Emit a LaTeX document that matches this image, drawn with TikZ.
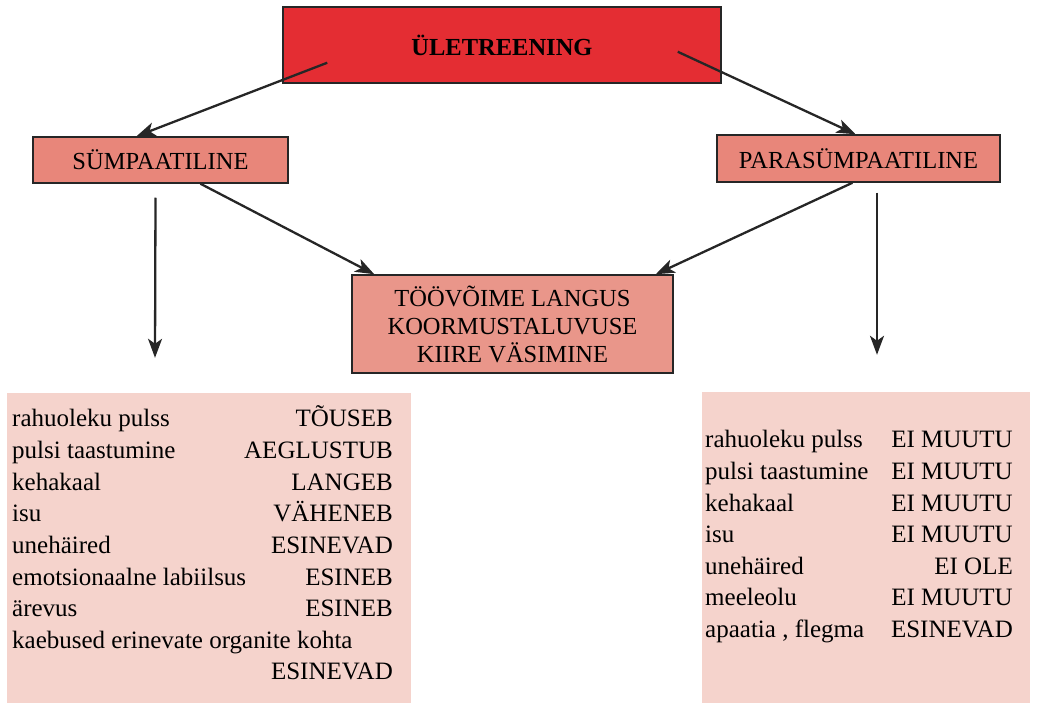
\documentclass[tikz,border=0pt]{standalone}
\usepackage{fontspec}
\setmainfont{Liberation Serif}
\usepackage{xcolor}
\usetikzlibrary{arrows.meta}

\definecolor{topred}{RGB}{228,45,51}
\definecolor{sidesalmon}{RGB}{232,134,122}
\definecolor{midsalmon}{RGB}{233,150,138}
\definecolor{listpink}{RGB}{245,211,204}

\begin{document}
\begin{tikzpicture}[x=1pt, y=-1pt,
  box/.style={draw=black!85, line width=1.5pt, inner sep=0pt,
    font=\fontsize{24.5}{28}\selectfont},
  listbox/.style={fill=listpink, inner sep=0pt},
  item/.style={inner sep=0pt, font=\fontsize{25}{30}\selectfont},
  arr/.style={line width=2.3pt, black!85, -{Stealth[length=19pt,width=14pt,inset=5pt]}}]
  \useasboundingbox (0,0) rectangle (1037,703);
  % boxes
  \node[box, fill=topred, minimum width=438pt, minimum height=76pt] (top) at (502,45) {\textbf{ÜLETREENING}};
  \node[box, fill=sidesalmon, minimum width=255pt, minimum height=46pt] (symp) at (160.5,160) {SÜMPAATILINE};
  \node[box, fill=sidesalmon, minimum width=283pt, minimum height=47pt] (para) at (858.5,158.5) {PARASÜMPAATILINE};
  \node[box, fill=midsalmon, minimum width=321pt, minimum height=98pt, align=center] (mid) at (512.5,324)
    {TÖÖVÕIME LANGUS\\KOORMUSTALUVUSE\\KIIRE VÄSIMINE};
  % lists
  \node[listbox, minimum width=404pt, minimum height=310pt] (symplist) at (209,548) {};
  \node[listbox, minimum width=328pt, minimum height=311pt] (paralist) at (866,547.5) {};
  \foreach \name/\val [count=\i] in {rahuoleku pulss/TÕUSEB, pulsi taastumine/AEGLUSTUB,
      kehakaal/LANGEB, isu/VÄHENEB, unehäired/ESINEVAD, emotsionaalne labiilsus/ESINEB,
      ärevus/ESINEB, kaebused erinevate organite kohta/{}, {}/ESINEVAD} {
    \node[item, anchor=base west] (sn\i) at (12,427+31.6*\i-31.6) {\name};
    \node[item, anchor=base east] (sv\i) at (393,427+31.6*\i-31.6) {\val};
  }
  \foreach \name/\val [count=\i] in {rahuoleku pulss/EI MUUTU, pulsi taastumine/EI MUUTU,
      kehakaal/EI MUUTU, isu/EI MUUTU, unehäired/EI OLE, meeleolu/EI MUUTU,
      {apaatia , flegma}/ESINEVAD} {
    \node[item, anchor=base west] (pn\i) at (705,448+31.5*\i-31.5) {\name};
    \node[item, anchor=base east] (pv\i) at (1013,448+31.5*\i-31.5) {\val};
  }
  % arrows
  \draw[arr] ([xshift=45pt,yshift=21pt]top.south west) -- ([xshift=-24pt]symp.north);
  \draw[arr] ([xshift=-44pt,yshift=32pt]top.south east) -- ([xshift=-3pt]para.north);
  \draw[arr] ([xshift=40pt]symp.south) -- ([xshift=23pt]mid.north west);
  \draw[arr] ([xshift=-6pt]para.south) -- ([xshift=-18pt]mid.north east);
  \draw[arr] ([xshift=-5pt,yshift=-14pt]symp.south) -- ([xshift=-54pt,yshift=35pt]symplist.north);
  \draw[arr] ([xshift=18.5pt,yshift=-10pt]para.south) -- ([xshift=11pt,yshift=37pt]paralist.north);
\end{tikzpicture}
\end{document}
